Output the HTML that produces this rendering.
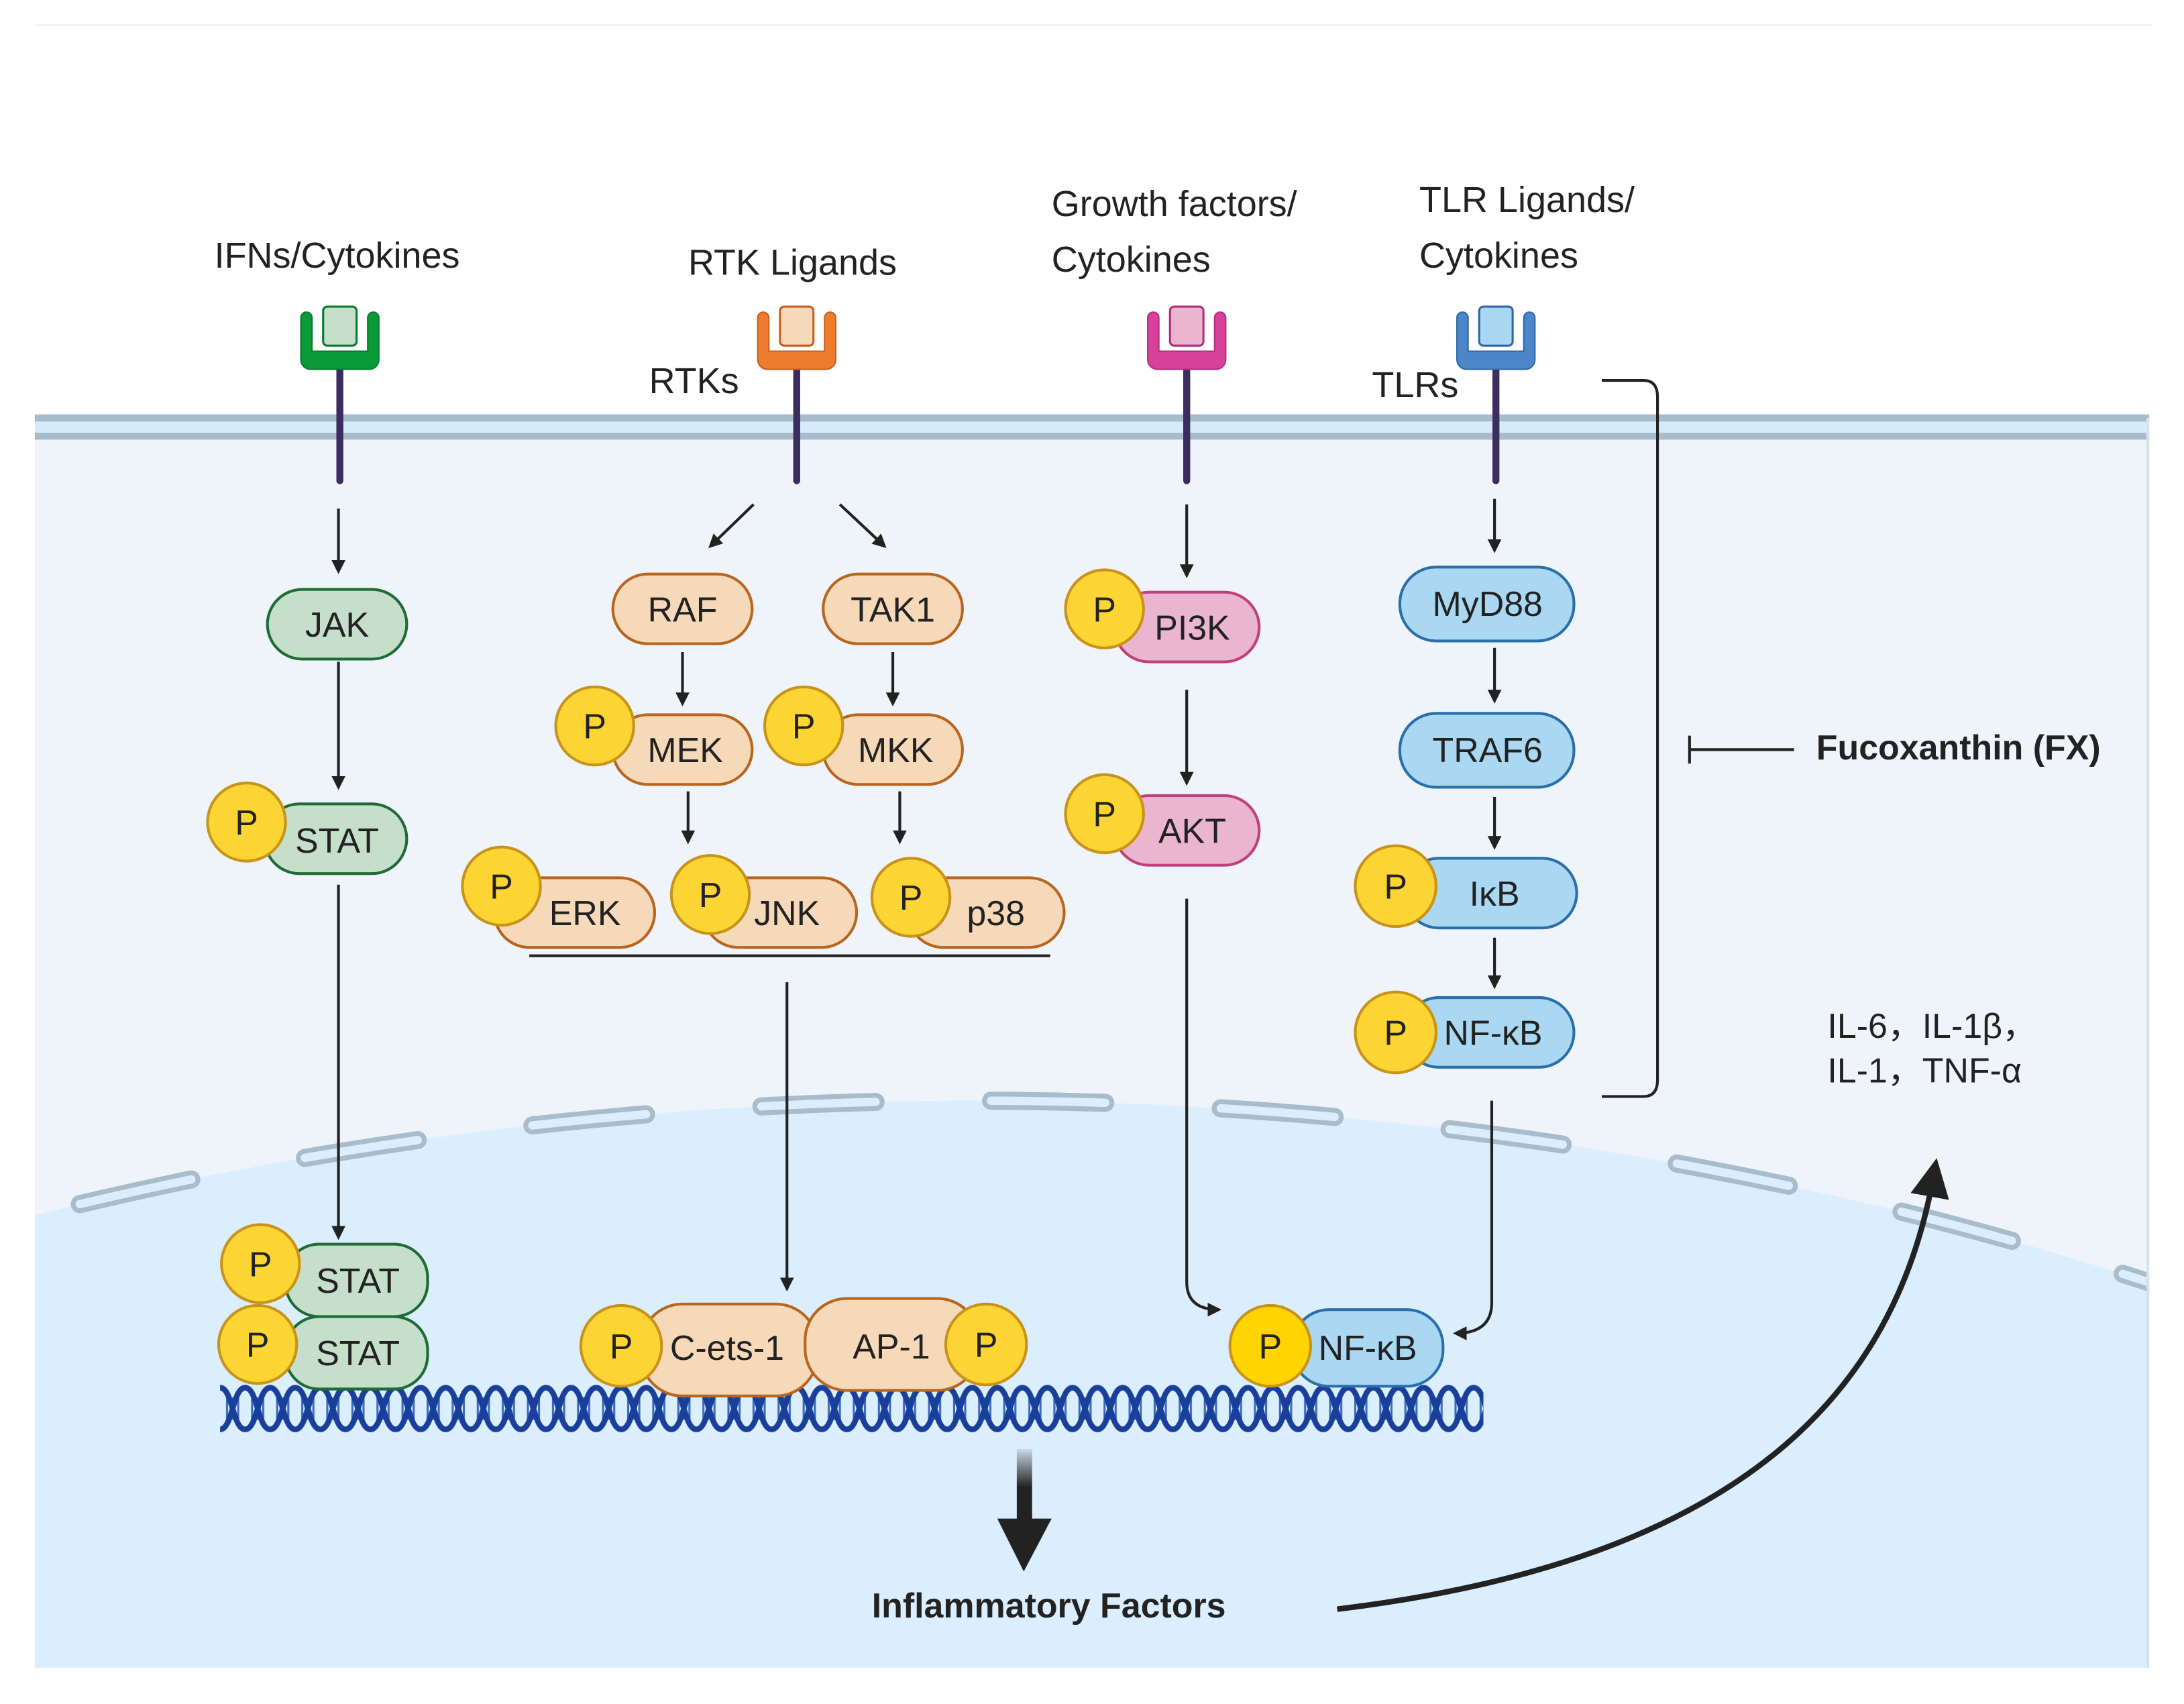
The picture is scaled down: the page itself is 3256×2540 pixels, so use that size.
<!DOCTYPE html>
<html><head><meta charset="utf-8"><style>html,body{margin:0;padding:0;background:#fff;overflow:hidden}svg{display:block}</style></head><body>
<svg width="3256" height="2540" viewBox="0 0 1568 1223" xmlns="http://www.w3.org/2000/svg" font-family="'Liberation Sans', sans-serif">
<defs>
<marker id="ah" markerWidth="10" markerHeight="10" refX="8" refY="5" orient="auto" markerUnits="userSpaceOnUse"><path d="M0,0 L10,5 L0,10 Z" fill="#222"/></marker>
<marker id="bh" markerWidth="28" markerHeight="28" refX="14" refY="14" orient="auto" markerUnits="userSpaceOnUse"><path d="M0,0 L28,14 L0,28 Z" fill="#222"/></marker>
<linearGradient id="ga" x1="0" y1="0" x2="0" y2="1"><stop offset="0" stop-color="#222" stop-opacity="0.1"/><stop offset="0.5" stop-color="#222"/></linearGradient>
<clipPath id="cell"><rect x="25" y="306" width="1518" height="891"/></clipPath>
<pattern id="dna" x="158" y="994" width="36" height="34" patternUnits="userSpaceOnUse">
<path d="M5,6 v22 M9,9 v16 M13,9 v16 M23,9 v16 M27,9 v16 M31,6 v22" stroke="#3a6ac0" stroke-width="1.5"/>
<path d="M0,2 C9,2 9,32 18,32 C27,32 27,2 36,2" fill="none" stroke="#1a3f9a" stroke-width="4"/>
<path d="M0,32 C9,32 9,2 18,2 C27,2 27,32 36,32" fill="none" stroke="#1a3f9a" stroke-width="4"/>
</pattern>
</defs>
<line x1="25" y1="18" x2="1545" y2="18" stroke="#eee" stroke-width="1"/>
<rect x="25" y="300" width="1518" height="897" fill="#eef4fa"/>
<g clip-path="url(#cell)">
<ellipse cx="700" cy="2190" rx="2000" ry="1400" fill="#dbeefd"/>
<ellipse cx="700" cy="2190" rx="2000" ry="1400" fill="none" stroke="#a9bccb" stroke-width="13" stroke-dasharray="82 83" stroke-linecap="round"/>
<ellipse cx="700" cy="2190" rx="2000" ry="1400" fill="none" stroke="#dbeefd" stroke-width="6" stroke-dasharray="82 83" stroke-linecap="round"/>
</g>
<rect x="25" y="297" width="1518" height="18" fill="#d6ebfa"/>
<line x1="25" y1="300" x2="1543" y2="300" stroke="#a9bccb" stroke-width="5"/>
<line x1="25" y1="313" x2="1543" y2="313" stroke="#a9bccb" stroke-width="5"/>
<line x1="1542" y1="300" x2="1542" y2="1197" stroke="#d4e2ee" stroke-width="2"/>

<g font-size="26" fill="#222">
<text x="242" y="192" text-anchor="middle">IFNs/Cytokines</text>
<text x="569" y="197" text-anchor="middle">RTK Ligands</text>
<text x="755" y="155">Growth factors/</text>
<text x="755" y="195">Cytokines</text>
<text x="1019" y="152">TLR Ligands/</text>
<text x="1019" y="192">Cytokines</text>
<text x="466" y="282">RTKs</text>
<text x="985" y="285">TLRs</text>
</g>

<g>
<g transform="translate(244,0)"><line x1="0" y1="262" x2="0" y2="345" stroke="#3b2d5f" stroke-width="5" stroke-linecap="round"/><path d="M-28,228 a4,4 0 0 1 8,0 V252 H20 V228 a4,4 0 0 1 8,0 V258 a7,7 0 0 1 -7,7 H-21 a7,7 0 0 1 -7,-7 Z" fill="#0a9a3a" stroke="#0a7a30" stroke-width="1"/><rect x="-12" y="220" width="24" height="28" rx="3" fill="#c5dfca" stroke="#0a7a30" stroke-width="1.5"/></g>
<g transform="translate(572,0)"><line x1="0" y1="262" x2="0" y2="345" stroke="#3b2d5f" stroke-width="5" stroke-linecap="round"/><path d="M-28,228 a4,4 0 0 1 8,0 V252 H20 V228 a4,4 0 0 1 8,0 V258 a7,7 0 0 1 -7,7 H-21 a7,7 0 0 1 -7,-7 Z" fill="#ee7c30" stroke="#c65f1c" stroke-width="1"/><rect x="-12" y="220" width="24" height="28" rx="3" fill="#f5d9b9" stroke="#c65f1c" stroke-width="1.5"/></g>
<g transform="translate(852,0)"><line x1="0" y1="262" x2="0" y2="345" stroke="#3b2d5f" stroke-width="5" stroke-linecap="round"/><path d="M-28,228 a4,4 0 0 1 8,0 V252 H20 V228 a4,4 0 0 1 8,0 V258 a7,7 0 0 1 -7,7 H-21 a7,7 0 0 1 -7,-7 Z" fill="#d8409a" stroke="#b02f7c" stroke-width="1"/><rect x="-12" y="220" width="24" height="28" rx="3" fill="#eab6cf" stroke="#b02f7c" stroke-width="1.5"/></g>
<g transform="translate(1074,0)"><line x1="0" y1="262" x2="0" y2="345" stroke="#3b2d5f" stroke-width="5" stroke-linecap="round"/><path d="M-28,228 a4,4 0 0 1 8,0 V252 H20 V228 a4,4 0 0 1 8,0 V258 a7,7 0 0 1 -7,7 H-21 a7,7 0 0 1 -7,-7 Z" fill="#4a86c8" stroke="#2f67a6" stroke-width="1"/><rect x="-12" y="220" width="24" height="28" rx="3" fill="#aad8f2" stroke="#2f67a6" stroke-width="1.5"/></g>
</g>

<g stroke="#222" stroke-width="2" fill="none" marker-end="url(#ah)">
<line x1="243" y1="365" x2="243" y2="410"/>
<line x1="243" y1="475" x2="243" y2="565"/>
<line x1="243" y1="635" x2="243" y2="888"/>
<line x1="541" y1="362" x2="510" y2="392"/>
<line x1="603" y1="362" x2="635" y2="392"/>
<line x1="490" y1="468" x2="490" y2="505"/>
<line x1="641" y1="468" x2="641" y2="505"/>
<line x1="494" y1="568" x2="494" y2="604"/>
<line x1="646" y1="568" x2="646" y2="604"/>
<line x1="565" y1="705" x2="565" y2="925"/>
<line x1="852" y1="362" x2="852" y2="413"/>
<line x1="852" y1="495" x2="852" y2="562"/>
<path d="M852,645 V920 Q852,940 875,940"/>
<line x1="1073" y1="358" x2="1073" y2="395"/>
<line x1="1073" y1="465" x2="1073" y2="503"/>
<line x1="1073" y1="572" x2="1073" y2="608"/>
<line x1="1073" y1="673" x2="1073" y2="708"/>
<path d="M1071,790 V935 Q1071,957 1045,957"/>
</g>
<line x1="380" y1="686" x2="754" y2="686" stroke="#222" stroke-width="2"/>

<path d="M1150,273 H1180 Q1190,273 1190,285 V775 Q1190,787 1180,787 H1150" fill="none" stroke="#222" stroke-width="2"/>
<line x1="1213" y1="538" x2="1288" y2="538" stroke="#222" stroke-width="2"/>
<line x1="1213" y1="528" x2="1213" y2="548" stroke="#222" stroke-width="2"/>
<text x="1304" y="545" font-size="25" font-weight="bold" fill="#222">Fucoxanthin (FX)</text>
<text x="1312" y="745" font-size="25" fill="#222">IL-6，IL-1β，</text>
<text x="1312" y="777" font-size="25" fill="#222">IL-1，TNF-α</text>

<!-- DNA -->
<rect x="158" y="994" width="907" height="34" fill="url(#dna)"/>

<g font-size="25" fill="#222" text-anchor="middle">
<rect x="192" y="423" width="100" height="50" rx="25" fill="#c5dfca" stroke="#1e6b35" stroke-width="2"/><text x="242" y="457">JAK</text>
<rect x="190" y="577" width="102" height="50" rx="25" fill="#c5dfca" stroke="#1e6b35" stroke-width="2"/><text x="242" y="612">STAT</text>
<circle cx="177" cy="590" r="28" fill="#fcd534" stroke="#c8931a" stroke-width="2"/><text x="177" y="599">P</text>
<g fill="#f5d9b9" stroke="#b8661f" stroke-width="2">
<rect x="440" y="412" width="100" height="50" rx="25"/>
<rect x="591" y="412" width="100" height="50" rx="25"/>
<rect x="440" y="513" width="100" height="50" rx="25"/>
<rect x="591" y="513" width="100" height="50" rx="25"/>
<rect x="355" y="630" width="115" height="50" rx="25"/>
<rect x="505" y="630" width="110" height="50" rx="25"/>
<rect x="652" y="630" width="112" height="50" rx="25"/>
</g>
<text x="490" y="446">RAF</text><text x="641" y="446">TAK1</text>
<text x="492" y="547">MEK</text><text x="643" y="547">MKK</text>
<text x="420" y="664">ERK</text><text x="565" y="664">JNK</text><text x="715" y="664">p38</text>
<g fill="#fcd534" stroke="#c8931a" stroke-width="2">
<circle cx="427" cy="521" r="28"/><circle cx="577" cy="521" r="28"/>
<circle cx="360" cy="636" r="28"/><circle cx="510" cy="642" r="28"/><circle cx="654" cy="644" r="28"/>
</g>
<text x="427" y="530">P</text><text x="577" y="530">P</text><text x="360" y="645">P</text><text x="510" y="651">P</text><text x="654" y="653">P</text>
<rect x="800" y="425" width="104" height="50" rx="25" fill="#eab6cf" stroke="#c0407e" stroke-width="2"/><text x="856" y="459">PI3K</text>
<rect x="800" y="571" width="104" height="50" rx="25" fill="#eab6cf" stroke="#c0407e" stroke-width="2"/><text x="856" y="605">AKT</text>
<circle cx="793" cy="437" r="28" fill="#fcd534" stroke="#c8931a" stroke-width="2"/><text x="793" y="446">P</text>
<circle cx="793" cy="584" r="28" fill="#fcd534" stroke="#c8931a" stroke-width="2"/><text x="793" y="593">P</text>
<g fill="#aad8f2" stroke="#2a6faa" stroke-width="2">
<rect x="1005" y="407" width="125" height="53" rx="26"/>
<rect x="1005" y="512" width="125" height="53" rx="26"/>
<rect x="1008" y="616" width="124" height="50" rx="25"/>
<rect x="1008" y="716" width="122" height="50" rx="25"/>
</g>
<text x="1068" y="442">MyD88</text><text x="1068" y="547">TRAF6</text><text x="1073" y="650">IκB</text><text x="1072" y="750">NF-κB</text>
<circle cx="1002" cy="636" r="29" fill="#fcd534" stroke="#c8931a" stroke-width="2"/><text x="1002" y="645">P</text>
<circle cx="1002" cy="741" r="29" fill="#fcd534" stroke="#c8931a" stroke-width="2"/><text x="1002" y="750">P</text>

<rect x="205" y="893" width="102" height="52" rx="24" fill="#c5dfca" stroke="#1e6b35" stroke-width="2"/><text x="257" y="928">STAT</text>
<rect x="205" y="945" width="102" height="52" rx="24" fill="#c5dfca" stroke="#1e6b35" stroke-width="2"/><text x="257" y="980">STAT</text>
<circle cx="187" cy="907" r="28" fill="#fcd534" stroke="#c8931a" stroke-width="2"/><text x="187" y="916">P</text>
<circle cx="185" cy="965" r="28" fill="#fcd534" stroke="#c8931a" stroke-width="2"/><text x="185" y="974">P</text>
<rect x="460" y="936" width="127" height="66" rx="30" fill="#f5d9b9" stroke="#b8661f" stroke-width="2"/><text x="522" y="976">C-ets-1</text>
<rect x="578" y="932" width="125" height="66" rx="30" fill="#f5d9b9" stroke="#b8661f" stroke-width="2"/><text x="640" y="975">AP-1</text>
<circle cx="446" cy="966" r="29" fill="#fcd534" stroke="#c8931a" stroke-width="2"/><text x="446" y="975">P</text>
<circle cx="708" cy="965" r="29" fill="#fcd534" stroke="#c8931a" stroke-width="2"/><text x="708" y="974">P</text>
<rect x="928" y="940" width="108" height="55" rx="26" fill="#aad8f2" stroke="#2a6faa" stroke-width="2"/><text x="982" y="976">NF-κB</text>
<circle cx="912" cy="966" r="29" fill="#ffd400" stroke="#c8931a" stroke-width="2"/><text x="912" y="975">P</text>
</g>

<rect x="730" y="1040" width="11" height="55" fill="url(#ga)"/>
<path d="M716,1090 H755 L735,1128 Z" fill="#222"/>
<text x="753" y="1161" font-size="25" font-weight="bold" fill="#222" text-anchor="middle">Inflammatory Factors</text>
<path d="M960,1155 C1250,1120 1360,1000 1388,845" fill="none" stroke="#222" stroke-width="4" marker-end="url(#bh)"/>
</svg>
</body></html>
